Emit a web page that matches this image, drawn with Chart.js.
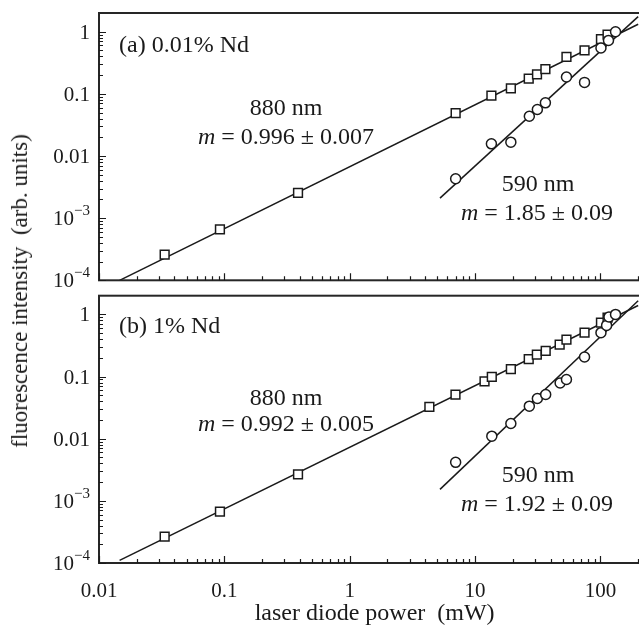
<!DOCTYPE html>
<html>
<head>
<meta charset="utf-8">
<script src="https://cdn.jsdelivr.net/npm/chart.js@4/dist/chart.umd.min.js"></script>
<style>
  html, body { margin: 0; padding: 0; background: #fff; overflow: hidden; }
  #wrap { position: relative; width: 639px; height: 626px; overflow: hidden; }
  canvas { position: absolute; left: 0; }
  #chart-a { top: 0; }
  #chart-b { top: 288px; }
  #ytitle {
    position: absolute; left: 20px; top: 291px;
    transform: translate(-50%, -50%) rotate(-90deg);
    font: 23px "Liberation Serif", serif; white-space: pre; color: #1a1a1a;
  }
</style>
</head>
<body>
<div id="wrap">
  <canvas id="chart-a" width="658" height="288"></canvas>
  <canvas id="chart-b" width="658" height="338"></canvas>
  <div id="ytitle">fluorescence intensity  (arb. units)</div>
</div>
<script>
const xMin = 0.01;
const xMax = 250;
const yMin = 1e-4;
const yMax = 2;

const xMajorTicks = [0.01, 0.1, 1, 10, 100];
const xTickLabels = ["0.01", "0.1", "1", "10", "100"];
const yMajorTicks = [1e-4, 1e-3, 0.01, 0.1, 1];
const yTickLabels = ["10^−4", "10^−3", "0.01", "0.1", "1"];
const minorSteps = [2, 3, 4, 5, 6, 7, 8, 9];

// panel (a) 0.01% Nd
const a880x = [0.0334, 0.0922, 0.387, 7.0, 13.5, 19.3, 26.8, 31.2, 36.4, 53.6, 74.7, 101, 114];
const a880y = [2.6e-4, 6.6e-4, 2.56e-3, 0.049, 0.094, 0.123, 0.176, 0.206, 0.25, 0.393, 0.50, 0.76, 0.90];
const a590x = [7.0, 13.5, 19.3, 27.1, 31.4, 36.4, 53.6, 74.7, 101, 116, 132];
const a590y = [0.0043, 0.0157, 0.0167, 0.0437, 0.056, 0.0717, 0.187, 0.153, 0.547, 0.725, 1.0];
const a880fitX = [0.0146, 200];
const a880fitY = [1.0e-4, 1.32];
const a590fitX = [5.25, 200];
const a590fitY = [0.0021, 1.75];

// panel (b) 1% Nd
const b880x = [0.0334, 0.0922, 0.387, 4.32, 6.98, 11.9, 13.6, 19.3, 26.8, 31.1, 36.6, 47.3, 53.6, 74.7, 101, 114];
const b880y = [2.66e-4, 6.7e-4, 2.67e-3, 0.0325, 0.0514, 0.084, 0.0986, 0.132, 0.19, 0.225, 0.26, 0.327, 0.393, 0.508, 0.736, 0.885];
const b590x = [7.0, 13.6, 19.3, 27.1, 31.4, 36.6, 47.7, 53.6, 74.7, 101, 112, 117, 132];
const b590y = [0.00417, 0.011, 0.0176, 0.0334, 0.0443, 0.0514, 0.0789, 0.0895, 0.206, 0.508, 0.666, 0.91, 1.0];
const b880fitX = [0.0146, 200];
const b880fitY = [1.1e-4, 1.39];
const b590fitX = [5.25, 200];
const b590fitY = [0.00153, 1.66];

const ink = "#1a1a1a";
const serif = "'Liberation Serif', 'Times New Roman', serif";

function pts(xs, ys) {
  return xs.map((x, i) => ({ x: x, y: ys[i] }));
}

function drawRich(ctx, parts, x, y, align) {
  const fonts = parts.map((p) => (p.italic ? "italic " : "") + "24px " + serif);
  let total = 0;
  const widths = parts.map((p, i) => {
    ctx.font = fonts[i];
    const w = ctx.measureText(p.text).width;
    total += w;
    return w;
  });
  let cx = align === "center" ? x - total / 2 : x;
  ctx.textAlign = "left";
  ctx.textBaseline = "alphabetic";
  parts.forEach((p, i) => {
    ctx.font = fonts[i];
    ctx.fillText(p.text, cx, y);
    cx += widths[i];
  });
}

const framePlugin = {
  id: "frame",
  afterDatasetsDraw(chart, args, opts) {
    const { ctx, chartArea: area } = chart;
    const xs = chart.scales.x;
    const ys = chart.scales.y;
    ctx.save();
    ctx.strokeStyle = "#262626";
    ctx.lineWidth = 2;
    ctx.strokeRect(area.left, area.top, area.right - area.left, area.bottom - area.top);

    ctx.lineWidth = 1.2;
    ctx.strokeStyle = ink;
    ctx.beginPath();
    const xTick = (v, len) => {
      if (v < xMin || v > xMax) return;
      const px = Math.round(xs.getPixelForValue(v)) + 0.5;
      ctx.moveTo(px, area.bottom);
      ctx.lineTo(px, area.bottom - len);
    };
    const yTick = (v, len) => {
      if (v < yMin || v >= yMax) return;
      const py = Math.round(ys.getPixelForValue(v)) + 0.5;
      ctx.moveTo(area.left, py);
      ctx.lineTo(area.left + len, py);
    };
    xMajorTicks.forEach((v) => {
      xTick(v, 7);
      minorSteps.forEach((m) => xTick(v * m, 4));
    });
    yMajorTicks.forEach((v) => {
      yTick(v, 7);
      minorSteps.forEach((m) => yTick(v * m, 4));
    });
    ctx.stroke();

    // y tick labels, with superscript exponents
    ctx.fillStyle = ink;
    ctx.textBaseline = "alphabetic";
    ctx.textAlign = "right";
    yMajorTicks.forEach((v, i) => {
      const py = ys.getPixelForValue(v);
      const right = area.left - 9;
      const [base, exp] = yTickLabels[i].split("^");
      if (exp) {
        ctx.font = "15px " + serif;
        const ew = ctx.measureText(exp).width;
        ctx.fillText(exp, right, py - 3);
        ctx.font = "21px " + serif;
        ctx.fillText(base, right - ew, py + 7);
      } else {
        ctx.font = "21px " + serif;
        ctx.fillText(base, right, py + 7);
      }
    });

    // panel annotations
    (opts.notes || []).forEach((n) => drawRich(ctx, n.parts, n.x, n.y, n.align));
    ctx.restore();
  }
};

function makePanel(canvasId, squares, circles, fit880, fit590, notes, bottomAxis) {
  return new Chart(document.getElementById(canvasId), {
    type: "scatter",
    data: {
      datasets: [
        {
          data: circles, order: 0, pointStyle: "circle", pointRadius: 5,
          borderColor: ink, backgroundColor: "#fff", borderWidth: 1.5
        },
        {
          data: squares, order: 1, pointStyle: "rect", pointRadius: 6.2,
          borderColor: ink, backgroundColor: "#fff", borderWidth: 1.5
        },
        {
          data: fit880, order: 2, showLine: true, pointRadius: 0,
          borderColor: ink, borderWidth: 1.5
        },
        {
          data: fit590, order: 2, showLine: true, pointRadius: 0,
          borderColor: ink, borderWidth: 1.5
        }
      ]
    },
    options: {
      responsive: false,
      animation: false,
      layout: { padding: { left: 99, top: bottomAxis ? 7 : 13, right: 0, bottom: bottomAxis ? 0 : 7 } },
      plugins: {
        legend: { display: false },
        tooltip: { enabled: false },
        frame: { notes: notes }
      },
      scales: {
        x: {
          type: "logarithmic",
          min: xMin,
          max: xMax,
          display: bottomAxis,
          grid: { display: false },
          border: { display: false },
          afterBuildTicks: (scale) => {
            scale.ticks = xMajorTicks.map((v) => ({ value: v }));
          },
          afterFit: (scale) => {
            scale.height = bottomAxis ? 63 : 0;
          },
          ticks: {
            autoSkip: false,
            maxRotation: 0,
            padding: 8,
            color: ink,
            font: { family: serif, size: 21 },
            callback: (value, index) => xTickLabels[index]
          },
          title: {
            display: true,
            text: "laser diode power  (mW)",
            color: ink,
            font: { family: serif, size: 24, lineHeight: 1.0 },
            padding: 0
          }
        },
        y: {
          type: "logarithmic",
          min: yMin,
          max: yMax,
          display: false
        }
      }
    },
    plugins: [framePlugin]
  });
}

const notesA = [
  { parts: [{ text: "(a) 0.01% Nd" }], x: 119, y: 52, align: "left" },
  { parts: [{ text: "880 nm" }], x: 286, y: 115, align: "center" },
  { parts: [{ text: "m", italic: true }, { text: " = 0.996 ± 0.007" }], x: 286, y: 144, align: "center" },
  { parts: [{ text: "590 nm" }], x: 538, y: 191, align: "center" },
  { parts: [{ text: "m", italic: true }, { text: " = 1.85 ± 0.09" }], x: 537, y: 220, align: "center" }
];

const notesB = [
  { parts: [{ text: "(b) 1% Nd" }], x: 119, y: 45, align: "left" },
  { parts: [{ text: "880 nm" }], x: 286, y: 117, align: "center" },
  { parts: [{ text: "m", italic: true }, { text: " = 0.992 ± 0.005" }], x: 286, y: 143, align: "center" },
  { parts: [{ text: "590 nm" }], x: 538, y: 194, align: "center" },
  { parts: [{ text: "m", italic: true }, { text: " = 1.92 ± 0.09" }], x: 537, y: 223, align: "center" }
];

makePanel("chart-a", pts(a880x, a880y), pts(a590x, a590y),
  pts(a880fitX, a880fitY), pts(a590fitX, a590fitY), notesA, false);
makePanel("chart-b", pts(b880x, b880y), pts(b590x, b590y),
  pts(b880fitX, b880fitY), pts(b590fitX, b590fitY), notesB, true);
</script>
</body>
</html>
